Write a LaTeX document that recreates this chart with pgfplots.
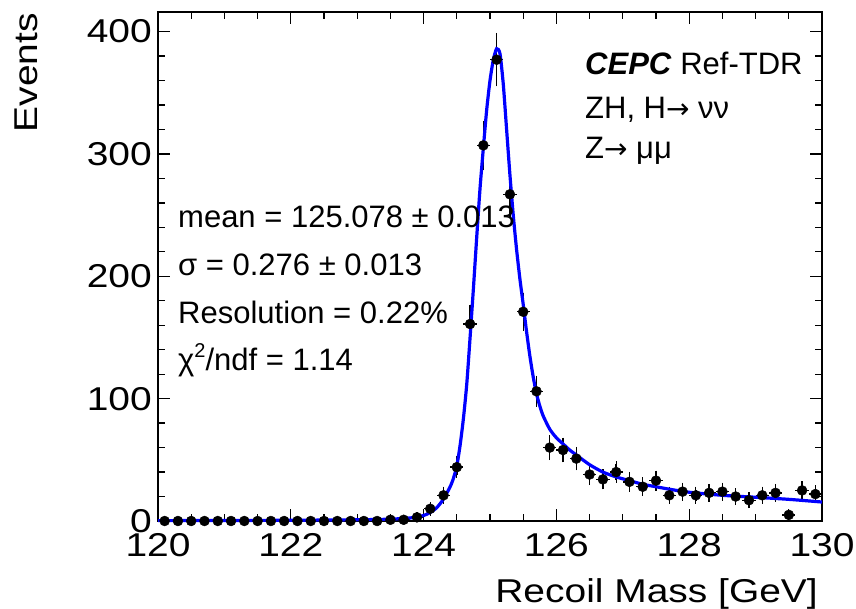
\documentclass[border=0pt]{standalone}
\usepackage{fontspec}
\setmainfont{Liberation Sans}
\newfontfamily\axfont{Liberation Sans}[FakeStretch=1.18]
\newfontfamily\dejavu{DejaVu Sans}
\usepackage{pgfplots}
\usepackage{pgfplotstable}
\pgfplotsset{compat=1.18}

\pgfplotstableread{
x y ey
120.1 0 0
120.3 0 0
120.5 0 0
120.7 0 0
120.9 0 0
121.1 0 0
121.3 0 0
121.5 0 0
121.7 0 0
121.9 0 0
122.1 0 0
122.3 0 0
122.5 0 0
122.7 0 0
122.9 0 0
123.1 0 0
123.3 0 0
123.5 1 1
123.7 1 1
123.9 3 1.7
124.1 10 3.2
124.3 21 4.6
124.5 44 6.6
124.7 161 12.7
124.9 307 17.5
125.1 377 19.4
125.3 267 16.3
125.5 171 13.1
125.7 106 10.3
125.9 60 7.7
126.1 58 7.6
126.3 51 7.1
126.5 38 6.2
126.7 34 5.8
126.9 40 6.3
127.1 32 5.7
127.3 28 5.3
127.5 33 5.7
127.7 21 4.6
127.9 24 4.9
128.1 21 4.6
128.3 23 4.8
128.5 24 4.9
128.7 20 4.5
128.9 17 4.1
129.1 21 4.6
129.3 23 4.8
129.5 5 2.2
129.7 25 5.0
129.9 22 4.7
}\datatable

\begin{document}
\begin{tikzpicture}
\path[use as bounding box] (0pt,0pt) rectangle (856pt,608pt);
\begin{axis}[
  at={(158pt,87pt)}, anchor=south west,
  scale only axis, width=664pt, height=509pt,
  xmin=120, xmax=130, ymin=0, ymax=416,
  xtick={120,122,...,130}, ytick={0,100,...,400},
  minor x tick num=3, minor y tick num=4,
  tick align=inside, tick pos=both,
  major tick length=12pt, minor tick length=7pt,
  every tick/.style={black, line width=1.3pt},
  axis line style={black, line width=1.6pt},
  /pgf/number format/assume math mode=true,
  /pgf/number format/1000 sep={},
  ticklabel style={font=\axfont\fontsize{33}{33}\selectfont},
  xticklabel style={anchor=north, inner sep=0pt, yshift=-12pt},
  yticklabel style={anchor=east, inner sep=0pt, xshift=-6pt},
  clip=false,
]
\addplot[only marks, mark=*, mark size=5pt, black,
  error bars/.cd, x dir=both, x fixed=0.1, error mark=none,
  error bar style={line width=1.4pt, black}]
  table[x=x, y=y] {\datatable};
\addplot[only marks, mark=none, black,
  error bars/.cd, y dir=both, y explicit,
  error bar style={line width=1.4pt, black},
  error mark options={black, mark size=3pt, line width=1.3pt}]
  table[x=x, y=y, y error=ey] {\datatable};
\addplot[blue, line width=3.2pt, smooth, tension=0.4] coordinates {
(120.0,0.3) (121.0,0.4) (122.0,0.6) (123.0,1.0) (123.5,1.5) (123.8,2.5)
(124.0,4.5) (124.1,7) (124.2,11) (124.3,18) (124.4,28) (124.45,35)
(124.5,45) (124.55,62) (124.6,84) (124.65,112) (124.7,150) (124.75,190)
(124.8,232) (124.85,272) (124.9,305) (124.95,336) (125.0,360) (125.05,377)
(125.1,386) (125.15,382) (125.2,357) (125.25,320) (125.3,283) (125.35,250)
(125.4,222) (125.45,198) (125.5,177) (125.55,155) (125.6,135) (125.65,118)
(125.7,104) (125.75,94) (125.8,86) (125.9,75) (126.0,68) (126.1,63)
(126.2,58) (126.3,54) (126.5,46) (126.7,40) (126.9,36) (127.1,33)
(127.3,30) (127.5,28) (127.7,26) (128.0,23.5) (128.5,21) (129.0,19.4)
(129.5,17.7) (130.0,15.5)
};
\end{axis}
\begin{scope}[every node/.style={inner sep=0pt, anchor=base west, font=\fontsize{31}{31}\selectfont}]
\node at (178pt,380pt) {mean = 125.078 ± 0.013};
\node at (178pt,332pt) {σ = 0.276 ± 0.013};
\node at (178pt,284pt) {Resolution = 0.22\%};
\node at (178pt,237pt) {χ\raisebox{0.42em}{\fontsize{20}{20}\selectfont 2}/ndf = 1.14};
\node at (585pt,533pt) {\textbf{\textit{CEPC}} Ref-TDR};
\node at (585pt,489pt) {ZH, H{\dejavu\fontsize{28}{28}\selectfont→} νν};
\node at (585pt,449pt) {Z{\dejavu\fontsize{28}{28}\selectfont→} μμ};
\end{scope}
\node[inner sep=0pt, anchor=base east, font=\axfont\fontsize{33}{33}\selectfont] at (818pt,6pt) {Recoil Mass [GeV]};
\node[inner sep=0pt, anchor=base east, rotate=90, font=\axfont\fontsize{33}{33}\selectfont] at (37pt,595pt) {Events};
\end{tikzpicture}
\end{document}
